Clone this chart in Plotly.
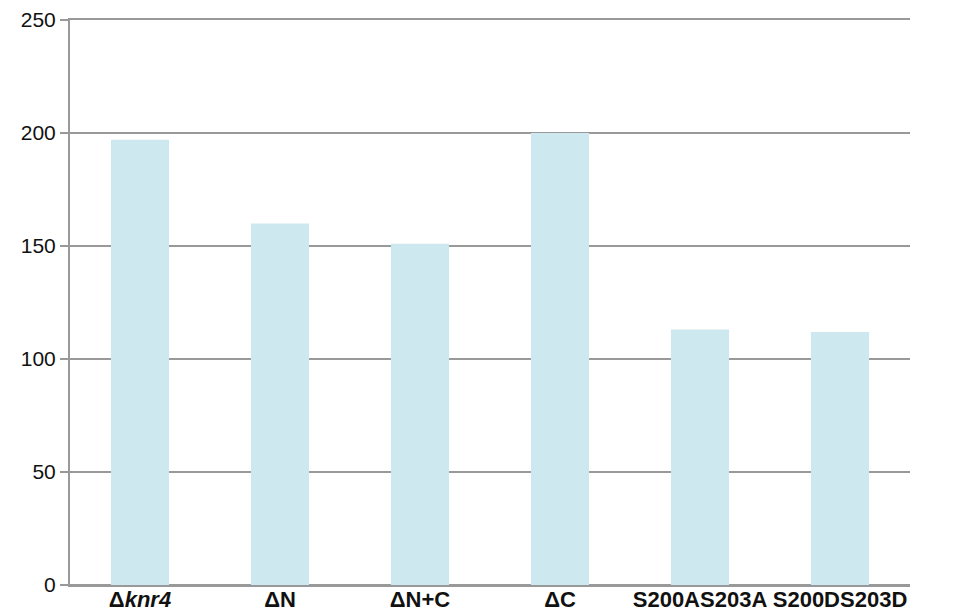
import plotly.graph_objects as go

categories = ["Δ<i>knr4</i>", "ΔN", "ΔN+C", "ΔC", "S200AS203A", "S200DS203D"]
values = [197, 160, 151, 200, 113, 112]
y_ticks = [0, 50, 100, 150, 200, 250]

fig = go.Figure()
fig.add_trace(go.Bar(
    x=list(range(len(categories))),
    y=values,
    width=0.415,
    marker=dict(color="#cde8ef", line=dict(width=0)),
))

# page body adds an 8px offset; size the figure so the plot lands where the reference has it
fig.update_layout(
    width=968, height=605,
    margin=dict(l=62, r=66, t=12, b=28),
    paper_bgcolor="white", plot_bgcolor="white",
    showlegend=False,
    font=dict(family="Liberation Sans, Arial", size=20, color="#111"),
)
fig.update_xaxes(
    tickmode="array",
    tickvals=list(range(len(categories))),
    ticktext=[f"<b>{c}</b>" for c in categories],
    range=[-0.5, len(categories) - 0.5],
    showline=True, mirror=True, linecolor="#999999", linewidth=2,
    showgrid=False, ticks="", ticklen=0, tickangle=0,
    ticklabelstandoff=-6,
    tickfont=dict(family="Liberation Sans, Arial", size=22, color="#111"),
    automargin=False,
)
fig.update_yaxes(
    range=[0, 250],
    tickvals=y_ticks,
    showgrid=True, gridcolor="#999999", gridwidth=2,
    showline=True, linecolor="#999999", linewidth=2,
    ticks="outside", ticklen=8, tickcolor="#999999", tickwidth=2,
    tickfont=dict(size=21, color="#111"),
    zeroline=True, zerolinecolor="#999999", zerolinewidth=2,
    automargin=False,
)
fig.write_html("out.html")
